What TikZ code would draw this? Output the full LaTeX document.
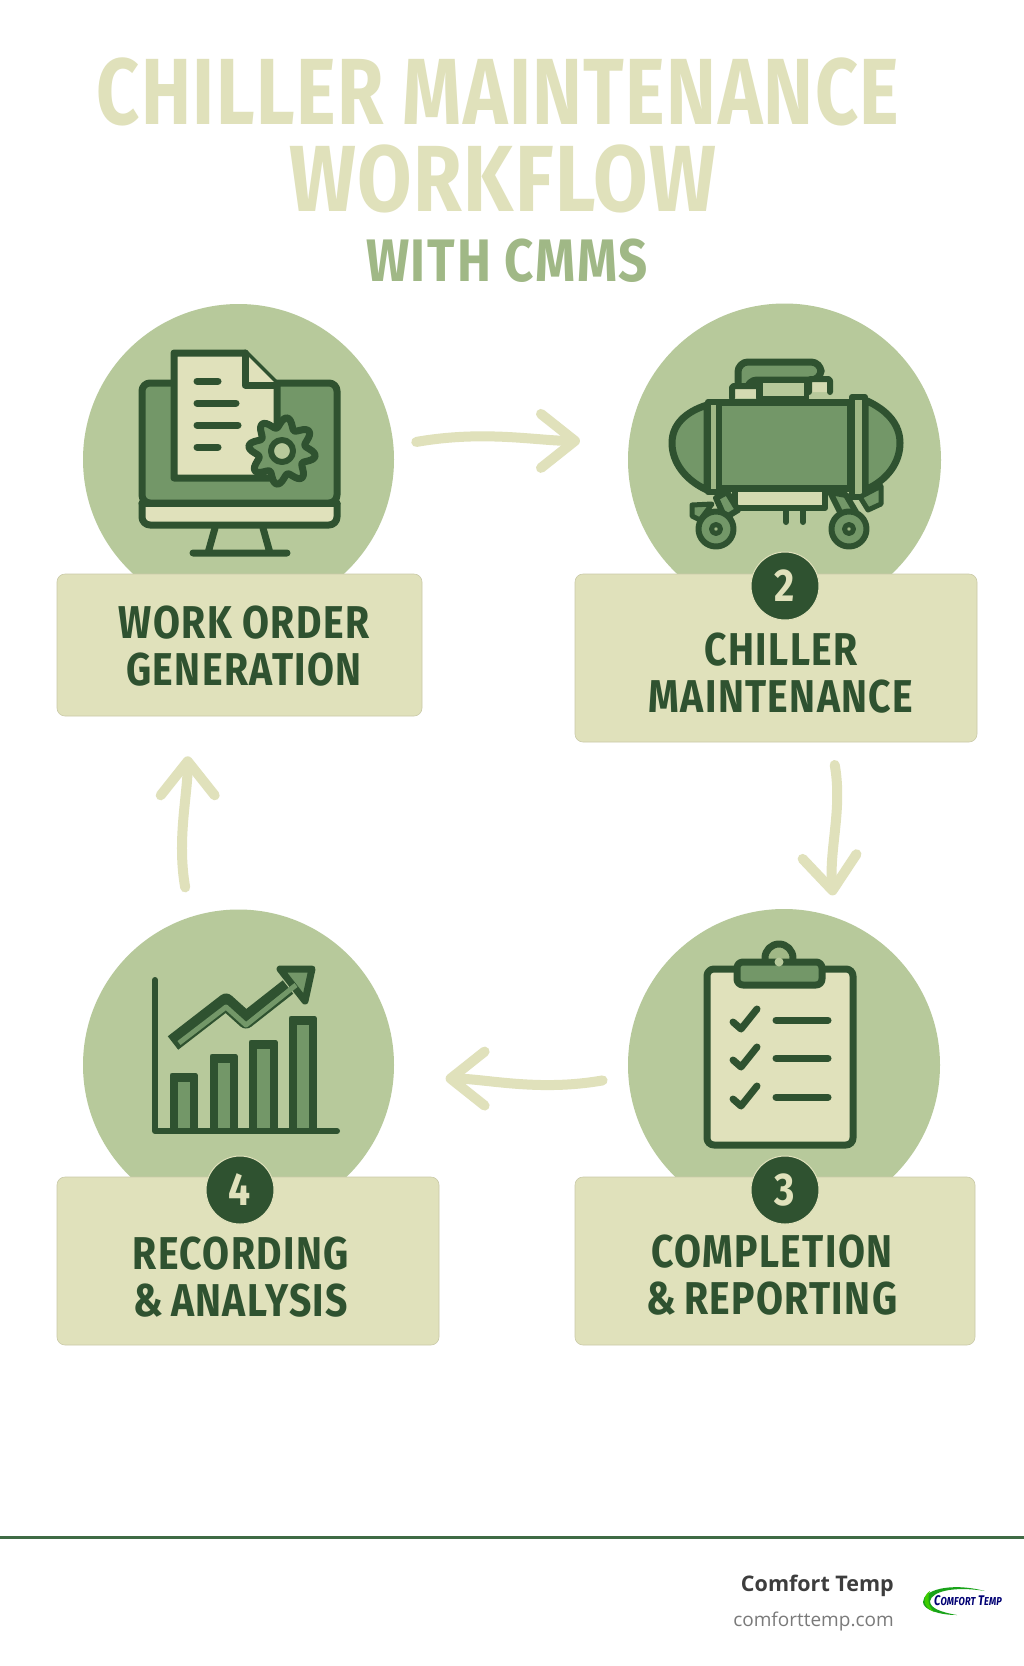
\documentclass[tikz,border=0pt]{standalone}
\usepackage{fontspec}
\usetikzlibrary{arrows.meta, math}
\newfontfamily\headfont[FakeStretch=0.8, LetterSpace=1.5]{Fira Sans}
\newfontfamily\headwidefont[FakeStretch=0.84, LetterSpace=1.5]{Fira Sans}
\newfontfamily\labelfont[FakeStretch=0.85, LetterSpace=3]{Fira Sans}
\newfontfamily\footfont{Open Sans}
\definecolor{discgreen}{HTML}{B7C99B}
\definecolor{darkgreen}{HTML}{2F5230}
\definecolor{midgreen}{HTML}{739768}
\definecolor{palegreen}{HTML}{E0E1BB}
\definecolor{subgreen}{HTML}{A0B886}
\definecolor{rulegreen}{HTML}{3F6B45}
\tikzset{%
  % one pixel of the picture is one point
  x=1pt, y=-1pt,
  disc/.style={circle, fill=discgreen, minimum size=#1, inner sep=0pt},
  labelbox/.style={rectangle, fill=palegreen, draw=palegreen!90!black, line width=0.6pt, rounded corners=8pt, inner sep=0pt},
  badge/.style={circle, fill=darkgreen, draw=palegreen, line width=1pt, minimum size=68pt, inner sep=0pt,
    text=palegreen, font=\labelfont\bfseries\fontsize{46}{46}\selectfont},
  steptext/.style={text=darkgreen, align=center, inner sep=0pt,
    font=\labelfont\bfseries\fontsize{46}{47}\selectfont},
  flowarrow/.style={draw=palegreen, line width=10pt, line cap=round,
    -{Straight Barb[length=34pt, width=54pt, round]}},
  % icon strokes
  icon/.style={draw=darkgreen, line width=7pt, line join=round, line cap=round},
  thinicon/.style={draw=darkgreen, line width=5pt, line join=round, line cap=round}
}
\begin{document}
\begin{tikzpicture}
  \useasboundingbox (0,0) rectangle (1024,1666);
  \fill[white] (0,0) rectangle (1024,1666);

  % title
  \node[text=palegreen, inner sep=0pt, font=\headfont\bfseries\fontsize{94}{94}\selectfont] (titlea) at (498,92) {CHILLER MAINTENANCE};
  \node[text=palegreen, inner sep=0pt, font=\headwidefont\bfseries\fontsize{94}{94}\selectfont] (titleb) at (503,179) {WORKFLOW};
  \node[text=subgreen, inner sep=0pt, font=\labelfont\bfseries\fontsize{60}{60}\selectfont] (titlec) at (507,261) {WITH CMMS};

  % discs
  \node[disc=311pt] (stepa) at (238.5,459.5) {};
  \node[disc=313pt] (stepb) at (784.5,460) {};
  \node[disc=312pt] (stepc) at (784,1065) {};
  \node[disc=311pt] (stepd) at (238.5,1065) {};

  % monitor with document and gear
  \draw[icon, fill=palegreen, rounded corners=8pt] (142,503) -- (142,525) -- (337,525) -- (337,503);
  \draw[icon, fill=midgreen, rounded corners=8pt] (142,503) -- (142,383) -- (337,383) -- (337,503) -- cycle;
  \draw[icon, sharp corners] (142,503) -- (337,503);
  \draw[icon] (215,528) -- (208,553) (263,528) -- (270,553) (193,553) -- (287,553);
  \draw[icon, fill=palegreen] (174,353) -- (245,353) -- (277,385) -- (277,478) -- (174,478) -- cycle;
  \draw[icon, fill=palegreen] (245,353) -- (245,385) -- (277,385);
  \foreach \y/\xend in {381/218, 403/236, 425/238, 447/218} {
    \draw[icon] (197,\y) -- (\xend,\y);
  }
  \draw[icon, fill=midgreen] plot[domain=0:360, samples=97, smooth cycle]
    ({282+(28.5+5*sin(8*\x+20))*cos(\x)}, {451+(28.5+5*sin(8*\x+20))*sin(\x)});
  \draw[icon, line width=6pt, fill=discgreen] (282,451) circle (11);

  % chiller on wheels
  \draw[icon, fill=midgreen, rounded corners=10pt] (738,386) -- (738,362) -- (821,362) -- (821,380) -- (747,380) -- (747,390);
  \draw[icon, line width=5pt, fill=discgreen] (760,380) rectangle (806,398);
  \draw[icon, line width=6pt, fill=palegreen!70!discgreen, rounded corners=2pt] (732,398) -- (732,386) -- (759,386) -- (759,398);
  \draw[icon, line width=6pt, fill=palegreen!70!discgreen, rounded corners=2pt] (809,392) -- (809,379) -- (830,379) -- (830,392);
  \draw[icon, fill=midgreen] (707,405) .. controls (685,412) and (672,425) .. (672,443) .. controls (672,462) and (685,480) .. (707,490) -- cycle;
  \draw[icon, fill=midgreen] (865,400) .. controls (888,410) and (900,425) .. (900,443) .. controls (900,462) and (888,480) .. (865,490) -- cycle;
  \draw[icon, fill=midgreen] (718,402) rectangle (850,488);
  \draw[icon, line width=6pt, fill=subgreen] (708,402) rectangle (719,492);
  \draw[icon, line width=6pt, fill=subgreen] (852,397) rectangle (865,497);
  \draw[icon, line width=6pt, fill=palegreen!70!discgreen] (735,492) -- (735,508) -- (825,508) -- (825,492);
  \draw[icon, line width=6pt] (786,508) -- (786,522) (803,508) -- (803,522);
  \draw[icon, line width=6pt, fill=midgreen] (716,498) -- (727,492) -- (738,510) -- (725,518) -- cycle;
  \draw[icon, line width=6pt, fill=midgreen] (830,492) -- (846,495) -- (856,512) -- (842,516) -- cycle;
  \draw[icon, line width=5pt, fill=midgreen] (712,504) -- (692,505) -- (692,516) -- (700,520) -- cycle;
  \draw[icon, line width=5pt, fill=midgreen] (860,497) -- (881,486) -- (881,504) -- (868,510) -- cycle;
  \foreach \cx in {716,849} {
    \draw[icon, line width=6pt, fill=midgreen] (\cx,529) circle (17.5);
    \draw[icon, line width=5pt, fill=subgreen] (\cx,529) circle (4.5);
  }

  % clipboard
  \draw[icon, fill=palegreen, rounded corners=7pt] (707,969) rectangle (853,1145);
  \draw[icon, fill=subgreen] (779,958) circle (14);
  \fill[darkgreen] (779,964) circle (5);
  \draw[icon, fill=midgreen, rounded corners=6pt] (737,962) rectangle (822,985);
  \fill[discgreen] (779,962) circle (4.5);
  \foreach \y in {1020,1058,1097} {
    \draw[icon] (733,\y+2) -- (741,\y+9) -- (757,\y-11);
    \draw[icon] (776,\y) -- (828,\y);
  }

  % chart
  \foreach \xa/\xb/\ytop in {172/195/1075, 212/235/1056, 251/275/1042, 291/314/1018} {
    \draw[thinicon, fill=darkgreen] (\xa,1130) -- (\xa,\ytop) -- (\xb,\ytop) -- (\xb,1130);
    \fill[midgreen] (\xa+6,\ytop+7) rectangle (\xb-5,1128);
  }
  \draw[icon, line width=6pt] (155,980) -- (155,1131) -- (337,1131);
  \draw[draw=darkgreen, line width=17pt, line join=round, line cap=butt] (173,1043) -- (226,1002) -- (246,1020) -- (288,987);
  \draw[draw=darkgreen, line width=7pt, fill=midgreen, line join=round] (312,969) -- (280,969) -- (305,1001) -- cycle;
  \draw[draw=midgreen, line width=5pt, line join=round] (179,1043) -- (226,1007) -- (246,1025) -- (296,985);

  % labels
  \node[labelbox, minimum width=365pt, minimum height=142pt] (boxa) at (239.5,645) {};
  \node[labelbox, minimum width=402pt, minimum height=168pt] (boxb) at (776,658) {};
  \node[labelbox, minimum width=400pt, minimum height=168pt] (boxc) at (775,1261) {};
  \node[labelbox, minimum width=382pt, minimum height=168pt] (boxd) at (248,1261) {};
  \node[steptext] (texta) at (244,646) {WORK ORDER\\GENERATION};
  \node[steptext] (textb) at (781,673) {CHILLER\\MAINTENANCE};
  \node[steptext] (textc) at (772,1275) {COMPLETION\\\&\,REPORTING};
  \node[steptext] (textd) at (241,1277) {RECORDING\\\&\,ANALYSIS};
  \node[badge] (badgeb) at (785,586) {2};
  \node[badge] (badgec) at (785,1190) {3};
  \node[badge] (badged) at (240,1190) {4};

  % arrows between the steps
  \draw[flowarrow, shorten <=23pt, shorten >=49pt] (stepa.5) to[out=10, in=180] (stepb.173);
  \draw[flowarrow, shorten <=23pt, shorten >=22pt] (boxb.-57) to[out=-80, in=95] (stepc.71);
  \draw[flowarrow, shorten <=26pt, shorten >=52pt] (stepc.184) to[out=190, in=0] (stepd.-5);
  \draw[flowarrow, shorten <=30pt, shorten >=40pt] (stepd.108) to[out=100, in=-90] (boxa.-126);

  % footer
  \coordinate (rulea) at (0,1537);
  \coordinate (ruleb) at (1024,1537);
  \draw[rulegreen, line width=3pt] (rulea) -- (ruleb);
  \node[anchor=east, inner sep=0pt, text=black!76, font=\footfont\bfseries\fontsize{21.5}{21.5}\selectfont] (brandname) at (894,1586) {Comfort Temp};
  \node[anchor=east, inner sep=0pt, text=black!52, font=\footfont\fontsize{19}{19}\selectfont] (brandurl) at (894,1621) {comforttemp.com};
  % logo
  \fill[green!60!black!90!white] (985,1591) .. controls (950,1582) and (923,1590) .. (923,1602) .. controls (923,1610) and (940,1615) .. (957,1615) .. controls (940,1612) and (930,1608) .. (930,1601) .. controls (932,1591) and (955,1586) .. (985,1591) -- cycle;
  \fill[green!70!yellow!80!black] (930,1591) .. controls (923,1595) and (921,1606) .. (934,1612) .. controls (928,1606) and (927,1598) .. (930,1591) -- cycle;
  \node[inner sep=0pt, text=blue!45!black, font=\headfont\bfseries\itshape\fontsize{14}{14}\selectfont] (brandlogo) at (968,1601) {C{\fontsize{11.5}{11.5}\selectfont OMFORT} T{\fontsize{11.5}{11.5}\selectfont EMP}};
\end{tikzpicture}
\end{document}
